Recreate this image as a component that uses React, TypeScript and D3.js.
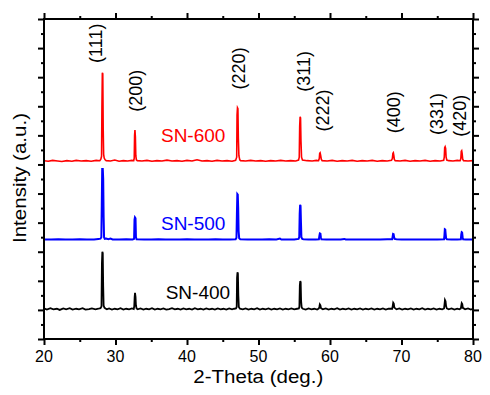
import React, { useEffect, useRef } from 'react';
import * as d3 from 'd3';

type Pt = [number, number];

// 2-theta tick values
const xMajorTicks = [20, 30, 40, 50, 60, 70, 80];
const xMinorTicks = [25, 35, 45, 55, 65, 75];
// intensity ticks (arbitrary units, no labels shown)
const yMajorTicks = [0, 1, 2, 3, 4, 5, 6, 7, 8, 9, 10, 11];
const yMinorTicks = [0.5, 1.5, 2.5, 3.5, 4.5, 5.5, 6.5, 7.5, 8.5, 9.5, 10.5];

// reflection labels, anchored at the start of the rotated text
const hklLabels = ['(111)', '(200)', '(220)', '(311)', '(222)', '(400)', '(331)', '(420)'];
const hklX = [28.11, 33.66, 48.18, 57.16, 59.86, 69.79, 75.85, 79.02];
const hklY = [9.49, 7.81, 8.58, 8.5, 7.13, 7.07, 7.01, 6.95];

const seriesNames = ['SN-600', 'SN-500', 'SN-400'];
const seriesColors = ['#ff0000', '#0000ff', '#000000'];
const seriesLabelX = [36.36, 36.36, 37.02];
const seriesLabelY = [6.78, 3.75, 1.375];

const sn600: Pt[] = [
  [20.0, 6.13], [20.6, 6.11], [21.2, 6.14], [21.9, 6.12], [22.5, 6.1], [23.2, 6.13], [23.9, 6.11], [24.5, 6.14],
  [25.2, 6.12], [25.9, 6.13], [26.6, 6.11], [27.3, 6.14], [27.8, 6.13],
  [27.95, 6.18], [28.05, 6.28], [28.1, 7.9], [28.16, 9.15], [28.22, 9.12], [28.28, 7.2], [28.34, 6.35], [28.42, 6.22],
  [28.55, 6.16], [28.7, 6.13],
  [29.3, 6.12], [29.9, 6.15], [30.5, 6.11], [31.1, 6.13], [31.7, 6.12], [32.3, 6.14], [32.55, 6.13],
  [32.62, 6.22], [32.67, 7.0], [32.72, 7.18], [32.78, 6.95], [32.84, 6.3], [32.92, 6.16], [33.05, 6.13],
  [33.7, 6.12], [34.4, 6.14], [35.1, 6.11], [35.8, 6.13], [36.5, 6.12], [37.2, 6.15], [37.9, 6.12], [38.6, 6.13],
  [39.3, 6.11], [40.0, 6.14], [40.7, 6.12], [41.4, 6.16], [42.1, 6.12], [42.8, 6.13], [43.5, 6.11], [44.2, 6.14],
  [44.9, 6.12], [45.6, 6.13], [46.3, 6.11], [46.8, 6.14],
  [46.95, 6.25], [47.0, 7.7], [47.06, 7.95], [47.12, 7.92], [47.18, 6.9], [47.26, 6.3], [47.38, 6.16], [47.5, 6.13],
  [48.2, 6.12], [48.9, 6.14], [49.6, 6.12], [50.3, 6.13], [51.0, 6.11], [51.7, 6.13], [52.4, 6.12], [53.1, 6.14],
  [53.8, 6.12], [54.5, 6.13], [55.2, 6.12], [55.6, 6.15],
  [55.7, 6.25], [55.76, 7.3], [55.82, 7.64], [55.88, 7.6], [55.94, 6.8], [56.02, 6.25], [56.15, 6.15],
  [56.8, 6.13], [57.5, 6.12], [58.1, 6.14], [58.4, 6.13],
  [58.5, 6.2], [58.56, 6.38], [58.62, 6.4], [58.7, 6.3], [58.78, 6.18], [58.9, 6.13],
  [59.6, 6.12], [60.3, 6.14], [61.0, 6.11], [61.7, 6.13], [62.4, 6.12], [63.1, 6.14], [63.8, 6.11], [64.5, 6.13],
  [65.2, 6.12], [65.9, 6.14], [66.6, 6.11], [67.3, 6.13], [68.0, 6.12], [68.6, 6.14],
  [68.72, 6.2], [68.8, 6.38], [68.86, 6.4], [68.93, 6.3], [69.0, 6.17], [69.12, 6.13],
  [69.8, 6.12], [70.5, 6.14], [71.2, 6.11], [71.9, 6.13], [72.6, 6.12], [73.3, 6.14], [74.0, 6.11], [74.7, 6.13],
  [75.4, 6.12], [75.9, 6.14],
  [75.98, 6.25], [76.04, 6.58], [76.1, 6.61], [76.17, 6.55], [76.24, 6.25], [76.34, 6.15], [76.6, 6.13],
  [77.2, 6.12], [77.8, 6.14], [78.2, 6.13],
  [78.3, 6.2], [78.36, 6.45], [78.42, 6.47], [78.48, 6.38], [78.56, 6.18], [78.68, 6.13],
  [79.3, 6.12], [80.0, 6.13],
];

const sn500: Pt[] = [
  [20.0, 3.42], [21.0, 3.42], [22.0, 3.43], [23.0, 3.42], [24.0, 3.42], [25.0, 3.43], [26.0, 3.42], [27.0, 3.42],
  [27.6, 3.44], [27.9, 3.45],
  [28.02, 3.5], [28.08, 4.6], [28.14, 5.84], [28.22, 5.84], [28.28, 5.5], [28.34, 4.2], [28.4, 3.5], [28.5, 3.44],
  [28.7, 3.45], [29.0, 3.43], [29.3, 3.45], [29.6, 3.42],
  [30.5, 3.42], [31.5, 3.43], [32.4, 3.42], [32.6, 3.44],
  [32.66, 4.1], [32.72, 4.18], [32.8, 4.15], [32.86, 3.5], [32.95, 3.43],
  [34.0, 3.42], [35.0, 3.42], [36.0, 3.43], [37.0, 3.42], [38.0, 3.42], [39.0, 3.42], [40.0, 3.43], [41.0, 3.42],
  [42.0, 3.42], [43.0, 3.42], [44.0, 3.43], [45.0, 3.42], [46.0, 3.42], [46.8, 3.43],
  [46.92, 3.48], [46.98, 4.3], [47.04, 4.98], [47.1, 4.96], [47.16, 4.5], [47.22, 3.7], [47.3, 3.46], [47.45, 3.43],
  [48.5, 3.42], [49.5, 3.42], [50.5, 3.42], [51.5, 3.43], [52.5, 3.42], [53.0, 3.45], [53.2, 3.42], [54.0, 3.42],
  [55.0, 3.42], [55.6, 3.44],
  [55.7, 3.5], [55.76, 4.3], [55.82, 4.61], [55.88, 4.58], [55.94, 4.0], [56.0, 3.5], [56.12, 3.44], [56.3, 3.43],
  [57.0, 3.42], [58.0, 3.42], [58.45, 3.43],
  [58.52, 3.55], [58.58, 3.63], [58.66, 3.62], [58.72, 3.5], [58.8, 3.43],
  [59.5, 3.42], [60.5, 3.42], [61.5, 3.42], [62.0, 3.44], [62.2, 3.42], [63.0, 3.42], [64.0, 3.42], [65.0, 3.42],
  [66.0, 3.42], [67.0, 3.42], [68.0, 3.43], [68.7, 3.43],
  [68.76, 3.52], [68.82, 3.61], [68.9, 3.6], [68.96, 3.5], [69.05, 3.44], [69.3, 3.43],
  [70.0, 3.42], [71.0, 3.42], [72.0, 3.42], [73.0, 3.42], [74.0, 3.42], [75.0, 3.42], [75.95, 3.43],
  [76.0, 3.55], [76.06, 3.77], [76.12, 3.76], [76.18, 3.6], [76.24, 3.46], [76.35, 3.43],
  [77.0, 3.42], [77.8, 3.42], [78.3, 3.43],
  [78.36, 3.6], [78.42, 3.67], [78.48, 3.66], [78.55, 3.5], [78.62, 3.43],
  [79.0, 3.42], [80.0, 3.42],
];

const sn400: Pt[] = [
  [20.0, 1.05], [20.4, 1.01], [20.9, 1.06], [21.3, 1.02], [21.8, 1.04], [22.2, 1.0], [22.7, 1.05], [23.1, 1.02],
  [23.6, 1.06], [24.0, 1.01], [24.5, 1.04], [24.9, 1.02], [25.4, 1.06], [25.8, 1.01], [26.3, 1.03], [26.7, 1.05],
  [27.2, 1.02], [27.6, 1.04], [27.9, 1.06],
  [28.04, 1.12], [28.1, 2.6], [28.16, 3.0], [28.22, 2.95], [28.28, 1.8], [28.34, 1.15], [28.45, 1.08], [28.6, 1.05],
  [28.8, 1.02], [29.1, 1.05],
  [29.5, 1.01], [29.9, 1.04], [30.3, 1.02], [30.7, 1.06], [31.1, 1.01], [31.5, 1.04], [31.9, 1.02], [32.3, 1.05],
  [32.55, 1.03],
  [32.62, 1.12], [32.68, 1.45], [32.73, 1.59], [32.8, 1.45], [32.86, 1.15], [32.95, 1.05], [33.1, 1.02],
  [33.5, 1.05], [33.9, 1.01], [34.3, 1.04], [34.7, 1.02], [35.1, 1.06], [35.5, 1.01], [35.9, 1.04], [36.3, 1.02],
  [36.7, 1.05], [37.1, 1.01], [37.5, 1.03], [37.9, 1.06], [38.3, 1.02], [38.7, 1.04], [39.1, 1.01], [39.5, 1.05],
  [39.9, 1.02], [40.3, 1.04], [40.7, 1.01], [41.1, 1.06], [41.5, 1.02], [41.9, 1.04], [42.3, 1.01], [42.7, 1.05],
  [43.1, 1.02], [43.5, 1.04], [43.9, 1.01], [44.3, 1.05], [44.7, 1.02], [45.1, 1.04], [45.5, 1.01], [45.9, 1.05],
  [46.3, 1.02], [46.6, 1.04], [46.85, 1.05],
  [46.95, 1.1], [47.0, 2.1], [47.06, 2.29], [47.12, 2.25], [47.18, 1.5], [47.25, 1.1], [47.4, 1.04],
  [47.8, 1.02], [48.2, 1.05], [48.6, 1.01], [49.0, 1.04], [49.4, 1.02], [49.8, 1.06], [50.2, 1.01], [50.6, 1.04],
  [51.0, 1.02], [51.4, 1.05], [51.8, 1.01], [52.2, 1.04], [52.6, 1.02], [53.0, 1.05], [53.4, 1.01], [53.8, 1.04],
  [54.2, 1.02], [54.6, 1.05], [55.0, 1.02], [55.4, 1.04], [55.65, 1.05],
  [55.72, 1.12], [55.78, 1.85], [55.84, 1.99], [55.9, 1.95], [55.96, 1.3], [56.04, 1.08], [56.2, 1.04],
  [56.6, 1.01], [57.0, 1.05], [57.4, 1.02], [57.8, 1.04], [58.2, 1.01], [58.45, 1.05],
  [58.52, 1.12], [58.58, 1.19], [58.66, 1.16], [58.74, 1.06],
  [59.0, 1.02], [59.4, 1.05], [59.8, 1.01], [60.2, 1.04], [60.6, 1.02], [61.0, 1.06], [61.4, 1.01], [61.8, 1.04],
  [62.2, 1.02], [62.6, 1.05], [63.0, 1.01], [63.4, 1.04], [63.8, 1.02], [64.2, 1.05], [64.6, 1.01], [65.0, 1.04],
  [65.4, 1.02], [65.8, 1.05], [66.2, 1.01], [66.6, 1.04], [67.0, 1.02], [67.4, 1.05], [67.8, 1.01], [68.2, 1.04],
  [68.7, 1.04],
  [68.78, 1.15], [68.84, 1.25], [68.92, 1.22], [69.0, 1.08],
  [69.3, 1.02], [69.7, 1.05], [70.1, 1.01], [70.5, 1.04], [70.9, 1.02], [71.3, 1.05], [71.7, 1.01], [72.1, 1.04],
  [72.5, 1.02], [72.9, 1.06], [73.3, 1.01], [73.7, 1.04], [74.1, 1.02], [74.5, 1.05], [74.9, 1.01], [75.3, 1.04],
  [75.7, 1.02], [75.95, 1.05],
  [76.02, 1.2], [76.08, 1.34], [76.16, 1.3], [76.24, 1.12], [76.34, 1.05],
  [76.6, 1.02], [77.0, 1.05], [77.4, 1.01], [77.8, 1.04], [78.1, 1.02], [78.3, 1.05],
  [78.36, 1.15], [78.42, 1.23], [78.5, 1.2], [78.58, 1.07],
  [78.9, 1.02], [79.3, 1.05], [79.7, 1.01], [80.0, 1.04],
];

const seriesData = [sn600, sn500, sn400];
const seriesWidths = [1.6, 2, 1.8];

const width = 490;
const height = 395;
const margin = { top: 19, right: 17, bottom: 56, left: 44 };
const font = '"Liberation Sans", Arial, sans-serif';

export default function App() {
  const axisRef = useRef<SVGGElement>(null);

  const x = d3.scaleLinear().domain([20, 80]).range([margin.left, width - margin.right]);
  const y = d3.scaleLinear().domain([0, 11]).range([height - margin.bottom, margin.top]);

  const line = d3.line<Pt>()
    .x(d => x(d[0]))
    .y(d => y(d[1]));

  useEffect(() => {
    const g = d3.select(axisRef.current);
    g.selectAll('*').remove();
    const bottom = height - margin.bottom;
    const right = width - margin.right;

    const add = (axis: d3.Axis<number>, tx: number, ty: number) => {
      const a = g.append('g').attr('transform', `translate(${tx},${ty})`).call(axis as any);
      a.select('.domain').remove();
      a.selectAll('text').remove();
      a.selectAll('line').attr('stroke', '#000').attr('stroke-width', 2);
    };

    add(d3.axisBottom<number>(x).tickValues(xMajorTicks).tickSize(6), 0, bottom);
    add(d3.axisBottom<number>(x).tickValues(xMinorTicks).tickSize(3), 0, bottom);
    add(d3.axisTop<number>(x).tickValues(xMajorTicks).tickSize(6), 0, margin.top);
    add(d3.axisTop<number>(x).tickValues(xMinorTicks).tickSize(3), 0, margin.top);
    add(d3.axisLeft<number>(y).tickValues(yMajorTicks).tickSize(6), margin.left, 0);
    add(d3.axisLeft<number>(y).tickValues(yMinorTicks).tickSize(3), margin.left, 0);
    add(d3.axisRight<number>(y).tickValues(yMajorTicks).tickSize(6), right, 0);
    add(d3.axisRight<number>(y).tickValues(yMinorTicks).tickSize(3), right, 0);
  }, []);

  return (
    <svg width={width} height={height} style={{ position: 'absolute', left: 0, top: 0, background: '#fff' }}
      fontFamily={font}>
      <rect x={0} y={0} width={width} height={height} fill="#fff" />

      {seriesData.map((data, i) => (
        <path key={seriesNames[i]} d={line(data) || ''} fill="none" stroke={seriesColors[i]}
          strokeWidth={seriesWidths[i]} strokeLinejoin="miter" />
      ))}

      {seriesNames.map((name, i) => (
        <text key={name} x={x(seriesLabelX[i])} y={y(seriesLabelY[i])} fontSize={19} fill={seriesColors[i]}>
          {name}
        </text>
      ))}

      {hklLabels.map((lab, i) => (
        <text key={lab} transform={`translate(${x(hklX[i])},${y(hklY[i])}) rotate(-90)`} fontSize={18} fill="#000">
          {lab}
        </text>
      ))}

      <rect x={margin.left} y={margin.top} width={width - margin.left - margin.right}
        height={height - margin.top - margin.bottom} fill="none" stroke="#000" strokeWidth={2} />
      <g ref={axisRef} />

      {xMajorTicks.map(t => (
        <text key={t} x={x(t)} y={362} fontSize={16} textAnchor="middle" fill="#000">{t}</text>
      ))}

      <text x={258.3} y={383} fontSize={18} textAnchor="middle" textLength={130} lengthAdjust="spacingAndGlyphs">
        2-Theta (deg.)
      </text>
      <text transform={`translate(25.5,178) rotate(-90)`} fontSize={18} textAnchor="middle" textLength={130}
        lengthAdjust="spacingAndGlyphs">
        Intensity (a.u.)
      </text>
    </svg>
  );
}
